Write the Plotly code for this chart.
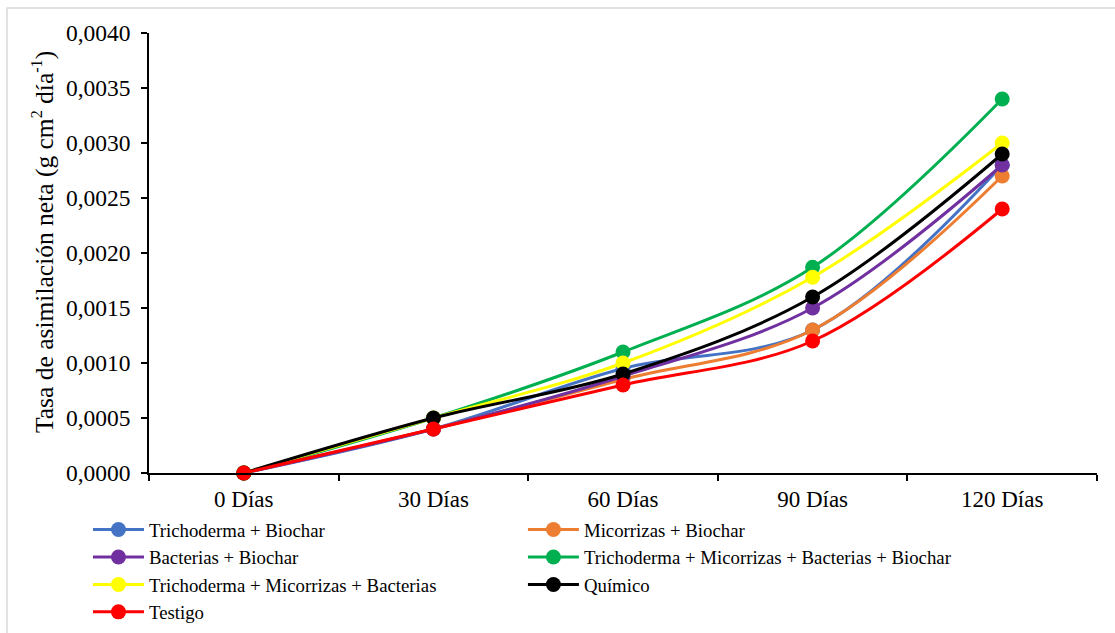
import plotly.graph_objects as go

# Sampling dates
dias = ["0 Días", "30 Días", "60 Días", "90 Días", "120 Días"]

# Net assimilation rate (g cm² día⁻¹) per treatment
trichoderma_biochar = [0.0, 0.0004, 0.00095, 0.0013, 0.0028]
micorrizas_biochar = [0.0, 0.0004, 0.00085, 0.0013, 0.0027]
bacterias_biochar = [0.0, 0.0004, 0.00088, 0.0015, 0.0028]
tmbb = [0.0, 0.0005, 0.0011, 0.00187, 0.0034]
tmb = [0.0, 0.0005, 0.0010, 0.00178, 0.0030]
quimico = [0.0, 0.0005, 0.0009, 0.0016, 0.0029]
testigo = [0.0, 0.0004, 0.0008, 0.0012, 0.0024]

# (name, values, colour, legend column)
series = [
    ("Trichoderma + Biochar", trichoderma_biochar, "#4472C4", "legend"),
    ("Micorrizas + Biochar", micorrizas_biochar, "#ED7D31", "legend2"),
    ("Bacterias + Biochar", bacterias_biochar, "#7030A0", "legend"),
    ("Trichoderma + Micorrizas + Bacterias + Biochar", tmbb, "#00B050", "legend2"),
    ("Trichoderma + Micorrizas + Bacterias", tmb, "#FFFF00", "legend"),
    ("Químico", quimico, "#000000", "legend2"),
    ("Testigo", testigo, "#FF0000", "legend"),
]

y_title = ("Tasa de asimilación neta (g cm<sup><span style='font-size:90%'>2</span></sup>"
           " día<sup><span style='font-size:90%'>-1</span></sup>)")

FONT = "Liberation Serif"
LEGEND_FONT = dict(family=FONT, size=18.8, color="black")

fig = go.Figure()
for name, vals, color, leg in series:
    fig.add_trace(go.Scatter(
        x=dias, y=vals, name=name, mode="lines+markers",
        line=dict(color=color, width=3, shape="spline", smoothing=1),
        marker=dict(color=color, size=15),
        cliponaxis=False, legend=leg,
    ))

legend_common = dict(
    orientation="v", xref="container", yref="container",
    y=0.193, xanchor="left", yanchor="top",
    font=LEGEND_FONT, tracegroupgap=0, itemwidth=51,
    bgcolor="rgba(0,0,0,0)",
)

fig.update_layout(
    width=1115, height=633,
    margin=dict(l=149, r=18, t=33, b=160, autoexpand=False),
    paper_bgcolor="white", plot_bgcolor="white",
    separators=",.",
    font=dict(family=FONT, color="black", size=20),
    showlegend=True,
    legend=dict(x=0.0789, **legend_common),
    legend2=dict(x=0.469, **legend_common),
    xaxis=dict(
        type="category", range=[-0.5, 4.5],
        showline=True, linecolor="black", linewidth=1.5,
        ticks="outside", tickson="boundaries", ticklen=6, tickcolor="black",
        tickwidth=1.5, showgrid=False, zeroline=False,
        tickfont=dict(family=FONT, size=23), ticklabelstandoff=5,
    ),
    yaxis=dict(
        range=[0, 0.004], dtick=0.0005, tickformat=".4f",
        showline=True, linecolor="black", linewidth=1.5,
        ticks="outside", ticklen=6, tickcolor="black", tickwidth=1.5,
        showgrid=False, zeroline=False,
        tickfont=dict(family=FONT, size=23.5), ticklabelstandoff=6,
    ),
    annotations=[dict(
        text=y_title, textangle=-90, showarrow=False,
        xref="paper", yref="paper", x=-0.1118, y=0.525,
        xanchor="center", yanchor="middle",
        font=dict(family=FONT, size=25.5, color="black"),
    )],
    shapes=[dict(
        type="rect", xref="paper", yref="paper",
        x0=-0.1498, y0=1.0568, x1=1.2, y1=-0.6,
        line=dict(color="#d9d9d9", width=1.5), fillcolor="rgba(0,0,0,0)",
        layer="below",
    )],
)

fig.write_html("out.html")
